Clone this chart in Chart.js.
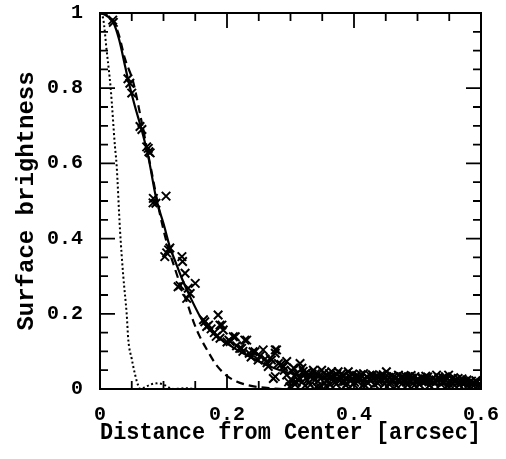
<!DOCTYPE html>
<html>
<head>
<meta charset="utf-8">
<script src="https://cdn.jsdelivr.net/npm/chart.js@4"></script>
<style>
html,body{margin:0;padding:0;background:#fff;}
#wrap{width:506px;height:459px;}
</style>
</head>
<body>
<div id="wrap"><canvas id="c" width="506" height="459"></canvas></div>
<script>
// ---- data ----
const xTickLabels = ["0", "0.2", "0.4", "0.6"];
const yTickLabels = ["0", "0.2", "0.4", "0.6", "0.8", "1"];

// observed surface brightness (crosses): [radius arcsec, brightness]
const observed = [
[0.020,0.981],[0.021,0.975],[0.044,0.825],[0.047,0.813],[0.050,0.787],[0.063,0.698],[0.066,0.690],
[0.0735,0.644],[0.076,0.640],[0.077,0.631],[0.079,0.628],[0.0835,0.495],[0.084,0.507],[0.088,0.494],
[0.104,0.513],[0.102,0.352],[0.105,0.362],[0.108,0.370],[0.110,0.375],[0.123,0.272],[0.126,0.275],
[0.129,0.352],[0.130,0.339],[0.134,0.308],[0.1365,0.241],[0.139,0.268],[0.142,0.254],[0.150,0.281],
[0.163,0.184],[0.165,0.179],[0.168,0.166],[0.171,0.170],[0.175,0.160],[0.180,0.150],[0.183,0.140],
[0.186,0.197],[0.189,0.170],[0.189,0.135],[0.192,0.170],[0.194,0.157],[0.200,0.125],[0.203,0.130],
[0.205,0.126],[0.210,0.139],[0.213,0.139],[0.215,0.115],[0.220,0.108],[0.223,0.108],[0.225,0.100],
[0.228,0.130],[0.231,0.130],[0.235,0.095],[0.238,0.085],[0.241,0.099],[0.244,0.099],[0.249,0.077],
[0.252,0.088],[0.257,0.104],[0.260,0.080],[0.263,0.070],[0.265,0.060],[0.268,0.082],[0.270,0.077],
[0.273,0.028],[0.276,0.033],[0.276,0.095],[0.276,0.104],[0.278,0.104],[0.281,0.068],[0.285,0.065],
[0.289,0.059],[0.290,0.050],[0.294,0.073],[0.294,0.037],[0.297,0.019],[0.299,0.006],
[0.302,0.048],[0.303,0.022],[0.306,0.035],[0.307,0.012],[0.310,0.041],[0.311,0.026],[0.314,0.030],
[0.315,0.068],[0.318,0.055],[0.318,0.018],[0.322,0.038],[0.323,0.009],[0.326,0.044],[0.327,0.024],
[0.331,0.011],[0.331,0.033],[0.336,0.050],[0.336,0.028],[0.339,0.040],[0.341,0.006],[0.343,0.021],
[0.346,0.006],[0.349,0.050],[0.350,0.032],[0.353,0.043],[0.354,0.016],[0.357,0.036],[0.358,0.024],
[0.361,0.041],[0.362,0.012],[0.365,0.046],[0.366,0.027],[0.369,0.034],[0.370,0.018],[0.373,0.039],
[0.375,0.046],[0.377,0.022],[0.379,0.031],[0.381,0.019],[0.383,0.037],[0.386,0.028],[0.387,0.010],
[0.389,0.015],[0.391,0.046],[0.393,0.033],[0.395,0.022],[0.398,0.040],[0.399,0.013],[0.402,0.030],
[0.404,0.036],[0.406,0.020],[0.409,0.027],[0.411,0.038],[0.413,0.009],[0.415,0.041],[0.417,0.025],
[0.420,0.033],[0.422,0.016],[0.425,0.037],[0.427,0.023],[0.430,0.029],[0.432,0.012],[0.435,0.034],
[0.438,0.033],[0.440,0.019],[0.443,0.027],[0.446,0.038],[0.448,0.014],[0.451,0.046],[0.452,0.024],
[0.455,0.031],[0.457,0.018],[0.460,0.035],[0.462,0.022],[0.465,0.028],[0.467,0.009],[0.470,0.037],
[0.471,0.020],[0.474,0.031],[0.476,0.015],[0.479,0.026],[0.481,0.034],[0.484,0.011],[0.486,0.033],
[0.488,0.021],[0.491,0.029],[0.493,0.016],[0.496,0.033],[0.498,0.023],[0.501,0.027],[0.503,0.012],
[0.506,0.030],[0.509,0.028],[0.511,0.018],[0.514,0.025],[0.516,0.032],[0.519,0.010],[0.521,0.022],
[0.524,0.029],[0.527,0.015],[0.530,0.037],[0.531,0.021],[0.534,0.026],[0.537,0.013],[0.540,0.030],
[0.542,0.019],[0.545,0.024],[0.547,0.008],[0.549,0.037],[0.551,0.022],[0.554,0.027],[0.556,0.014],
[0.559,0.020],[0.561,0.025],[0.564,0.028],[0.566,0.011],[0.569,0.018],[0.571,0.023],[0.574,0.015],
[0.576,0.020],[0.579,0.009],[0.581,0.017],[0.583,0.019],[0.586,0.012],[0.588,0.016],[0.591,0.013],
[0.593,0.018],[0.596,0.010],[0.598,0.014],
[0.305,0.056],[0.309,0.018],[0.320,0.047],[0.329,0.017],[0.334,0.040],[0.345,0.035],[0.356,0.008],
[0.364,0.032],[0.372,0.013],[0.380,0.040],[0.385,0.020],[0.397,0.028],[0.401,0.018],[0.408,0.033],
[0.416,0.012],[0.424,0.026],[0.429,0.038],[0.437,0.016],[0.442,0.036],[0.449,0.030],[0.456,0.012],
[0.463,0.033],[0.469,0.025],[0.477,0.033],[0.483,0.018],[0.490,0.036],[0.495,0.010],[0.500,0.021],
[0.507,0.019],[0.513,0.034],[0.518,0.024],[0.525,0.019],[0.533,0.031],[0.539,0.018],[0.544,0.033],
[0.550,0.013],[0.557,0.030],[0.563,0.017],[0.570,0.027],[0.578,0.024],[0.585,0.021],[0.592,0.022]
];

// best-fit model (solid)
const modelSolid = [
[0,1],[0.01,0.993],[0.021,0.975],[0.03,0.93],[0.04,0.855],[0.045,0.817],[0.055,0.752],[0.066,0.687],
[0.076,0.618],[0.089,0.503],[0.10,0.44],[0.110,0.378],[0.12,0.333],[0.129,0.294],[0.142,0.245],
[0.162,0.180],[0.18,0.145],[0.194,0.128],[0.21,0.11],[0.231,0.09],[0.25,0.073],[0.278,0.053],
[0.3,0.042],[0.35,0.030],[0.4,0.023],[0.45,0.018],[0.5,0.015],[0.55,0.012],[0.6,0.010]
];

// alternative model (dashed)
const modelDashed = [
[0,1],[0.01,0.995],[0.02,0.98],[0.03,0.94],[0.039,0.88],[0.0525,0.815],[0.0656,0.71],[0.081,0.58],
[0.095,0.46],[0.105,0.39],[0.118,0.32],[0.128,0.27],[0.137,0.23],[0.147,0.18],[0.157,0.14],
[0.17,0.10],[0.184,0.062],[0.2,0.035],[0.215,0.02],[0.231,0.011],[0.25,0.005],[0.27,0.002],
[0.29,0],[0.35,0]
];

// PSF (dotted)
const psfDotted = [
[0,1],[0.005,0.985],[0.0105,0.90],[0.0168,0.80],[0.0236,0.644],[0.026,0.60],[0.0315,0.423],
[0.0367,0.299],[0.042,0.20],[0.0446,0.13],[0.05,0.08],[0.055,0.04],[0.06,0.01],[0.064,0],
[0.07,0.004],[0.08,0.012],[0.089,0.015],[0.1,0.012],[0.11,0.003],[0.116,0],[0.125,0.001],
[0.135,0.002],[0.145,0.001],[0.155,0]
];

const toXY = arr => arr.map(p => ({x: p[0], y: p[1]}));

const FONT = "'Liberation Mono', 'Courier New', monospace";

function isMajor(v){ return Math.abs(v/0.2 - Math.round(v/0.2)) < 1e-6; }
function fmt(v, labels){
  if (!isMajor(v)) return '';
  const i = Math.round(v/0.2);
  return labels[i] !== undefined ? labels[i] : '';
}
function noPad(s){ s.paddingLeft = 0; s.paddingRight = 0; s.paddingTop = 0; s.paddingBottom = 0; }

const frameTicks = {
  id: 'frameTicks',
  afterDatasetsDraw(chart){
    const {ctx, chartArea: a, scales} = chart;
    ctx.save();
    ctx.strokeStyle = '#000';
    ctx.lineWidth = 1.8;
    ctx.beginPath();
    scales.x.ticks.forEach(t => {
      const px = scales.x.getPixelForValue(t.value);
      const L = isMajor(t.value) ? 15 : 8;
      ctx.moveTo(px, a.bottom); ctx.lineTo(px, a.bottom - L);
      ctx.moveTo(px, a.top); ctx.lineTo(px, a.top + L);
    });
    scales.y.ticks.forEach(t => {
      const py = scales.y.getPixelForValue(t.value);
      const L = isMajor(t.value) ? 15 : 8;
      ctx.moveTo(a.left, py); ctx.lineTo(a.left + L, py);
      ctx.moveTo(a.right, py); ctx.lineTo(a.right - L, py);
    });
    ctx.stroke();
    ctx.lineWidth = 2;
    ctx.strokeRect(a.left, a.top, a.right - a.left, a.bottom - a.top);
    ctx.restore();
  }
};

new Chart(document.getElementById('c'), {
  type: 'scatter',
  data: {
    datasets: [
      { data: toXY(observed), pointStyle: 'crossRot', radius: 6, borderWidth: 2,
        borderColor: '#000', backgroundColor: '#000', showLine: false },
      { data: toXY(modelSolid), showLine: true, pointRadius: 0, borderColor: '#000',
        borderWidth: 2.2, cubicInterpolationMode: 'monotone' },
      { data: toXY(modelDashed), showLine: true, pointRadius: 0, borderColor: '#000',
        borderWidth: 2.2, borderDash: [8, 5], cubicInterpolationMode: 'monotone' },
      { data: toXY(psfDotted), showLine: true, pointRadius: 0, borderColor: '#000',
        borderWidth: 2, borderDash: [2, 2.5], cubicInterpolationMode: 'monotone' }
    ]
  },
  options: {
    responsive: false,
    animation: false,
    devicePixelRatio: 1,
    layout: { padding: { left: 0, right: 25, top: 13, bottom: 0 } },
    plugins: { legend: { display: false }, tooltip: { enabled: false } },
    scales: {
      x: {
        type: 'linear', min: 0, max: 0.6,
        grid: { display: false, drawTicks: false },
        border: { display: false },
        ticks: { stepSize: 0.05, autoSkip: false, maxRotation: 0, padding: 14,
                 color: '#000', font: { family: FONT, size: 20, weight: 'bold' },
                 callback: v => fmt(v, xTickLabels) },
        title: { display: true, text: 'Distance from Center [arcsec]', color: '#000',
                 font: { family: FONT, size: 23, weight: 'bold' }, padding: { top: 0, bottom: 12 } },
        afterFit: s => { s.height = 70; noPad(s); }
      },
      y: {
        type: 'linear', min: 0, max: 1,
        grid: { display: false, drawTicks: false },
        border: { display: false },
        ticks: { stepSize: 0.05, autoSkip: false, padding: 17,
                 color: '#000', font: { family: FONT, size: 20, weight: 'bold' },
                 callback: v => fmt(v, yTickLabels) },
        title: { display: true, text: 'Surface brightness', color: '#000',
                 font: { family: FONT, size: 24, weight: 'bold' }, padding: { top: 13, bottom: 0 } },
        afterFit: s => { s.width = 100; noPad(s); }
      }
    }
  },
  plugins: [frameTicks]
});
</script>
</body>
</html>
